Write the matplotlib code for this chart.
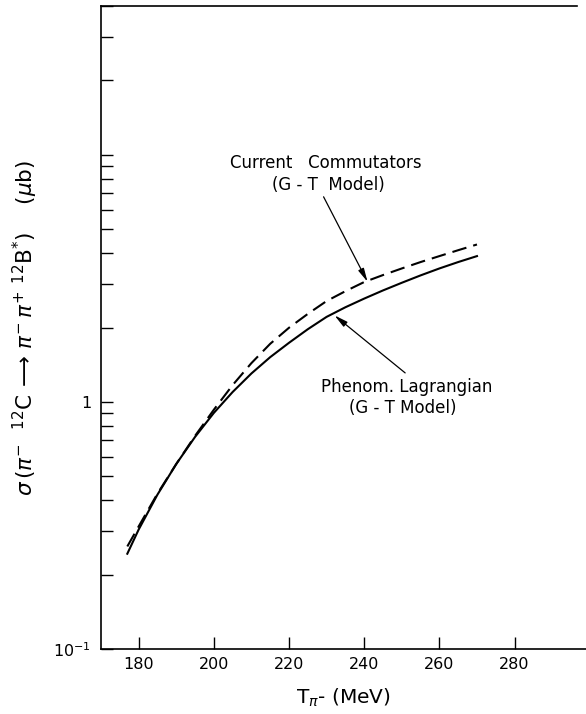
import matplotlib
matplotlib.use("Agg")
import matplotlib.pyplot as plt
from matplotlib.ticker import FixedLocator, FixedFormatter, NullLocator

plt.rcParams['font.family'] = ['DejaVu Sans']
plt.rcParams['mathtext.fontset'] = 'dejavusans'

# Data
T_mev = [177, 180, 185, 190, 195, 200, 205, 210, 215, 220, 225, 230, 235, 240,
         245, 250, 255, 260, 265, 270]
sigma_phenom = [0.243, 0.304, 0.421, 0.560, 0.721, 0.902, 1.096, 1.303, 1.517, 1.734,
                1.968, 2.208, 2.415, 2.618, 2.825, 3.034, 3.25, 3.467, 3.68, 3.89]
sigma_current = [0.260, 0.313, 0.425, 0.560, 0.728, 0.929, 1.169, 1.435, 1.718, 1.995,
                 2.27, 2.559, 2.805, 3.055, 3.26, 3.467, 3.68, 3.89, 4.11, 4.335]

x_ticks = [180, 200, 220, 240, 260, 280]
y_major = [0.1, 1, 10]
y_major_labels = [r'$10^{-1}$', '1', '']

fig = plt.figure(figsize=(5.86, 7.14), dpi=100)
ax = fig.add_axes([101/586, 1-649/714, 1-101/586, (649-6)/714])

ax.plot(T_mev, sigma_phenom, color='black', lw=1.5, solid_joinstyle='round')
ax.plot(T_mev, sigma_current, color='black', lw=1.5, ls=(0, (7.0, 3.4)))

ax.set_yscale('log')
ax.set_xlim(170, 299)
ax.set_ylim(0.1, 40)

ax.xaxis.set_major_locator(FixedLocator(x_ticks))
ax.xaxis.set_minor_locator(NullLocator())
ax.yaxis.set_major_locator(FixedLocator(y_major))
ax.yaxis.set_major_formatter(FixedFormatter(y_major_labels))

ax.tick_params(axis='both', which='both', direction='in', length=8.5, width=1.0,
               labelsize=11.5, color='black')
ax.tick_params(axis='x', pad=6)
ax.tick_params(axis='y', pad=7)
ax.tick_params(top=False, right=False)

ax.spines['right'].set_visible(False)
for s in ['left', 'bottom', 'top']:
    ax.spines[s].set_linewidth(1.2)
ax.spines['top'].set_bounds(170, 296.5)

ax.set_xlabel(r'$\mathrm{T}_{\pi}$- (MeV)', fontsize=14.5, labelpad=10)
ax.set_ylabel(r'$\sigma\,(\pi^{-}\ \ {}^{12}\mathrm{C} \,\longrightarrow\, \pi^{-}\,\pi^{+}\ {}^{12}\mathrm{B}^{*})\quad\ (\mu\mathrm{b})$',
              fontsize=15.5, labelpad=10)

ax.text(229.7, 9.25, 'Current   Commutators', ha='center', va='center', fontsize=12)
ax.text(230.5, 7.54, '(G - T  Model)', ha='center', va='center', fontsize=12)
ax.text(251.2, 1.147, 'Phenom. Lagrangian', ha='center', va='center', fontsize=12)
ax.text(250.2, 0.943, '(G - T Model)', ha='center', va='center', fontsize=12)

arrow_kw = dict(arrowstyle='-|>,head_length=0.8,head_width=0.18', color='black', lw=0.9,
                shrinkA=0, shrinkB=0)
ax.annotate('', xy=(240.9, 3.06), xytext=(229.2, 6.76), arrowprops=arrow_kw)
ax.annotate('', xy=(232.1, 2.24), xytext=(250.9, 1.31), arrowprops=arrow_kw)

fig.savefig('out.png', dpi=100)
